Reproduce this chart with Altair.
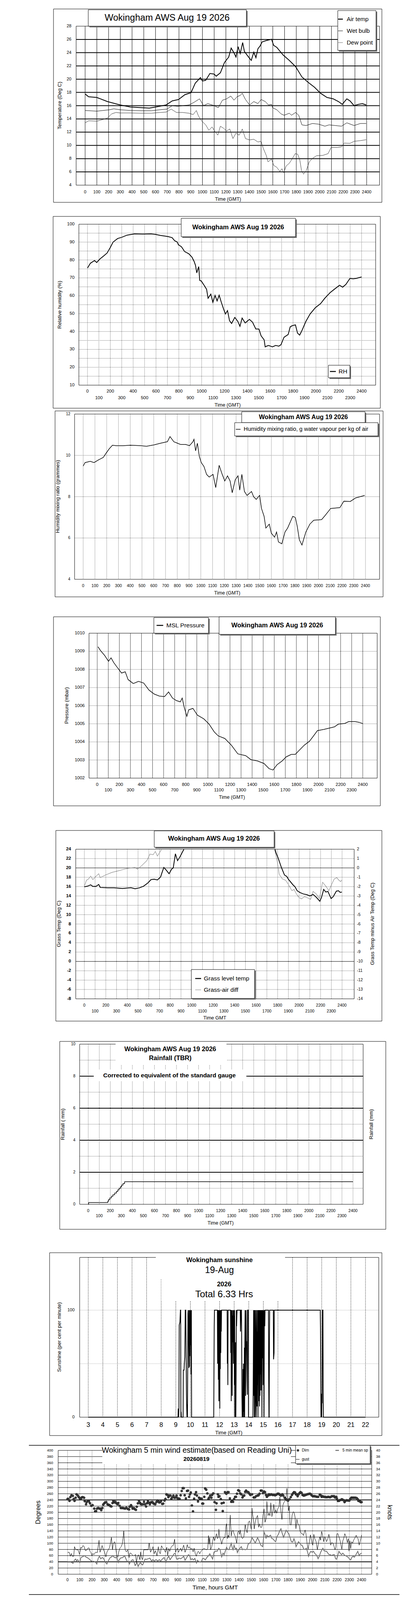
import altair as alt
import pandas as pd

FN = "Liberation Sans"
FR = "Liberation Sans"
MARGIN = 8
W, H = 1034, 5069
TITLE = "Wokingham AWS Aug 19 2026"

TIME_TICKS = list(range(0, 2500, 100))
EVEN_TICKS = list(range(0, 2500, 200))
ODD_TICKS = list(range(100, 2400, 200))
SUN_HOURS = list(range(3, 23))

# ---------------- data (time in HHMM-linear units, 100 per hour) ----------------
AIR_TEMP = [(0,17.76),(30,17.34),(100,17.24),(190,16.62),(300,16.1),(387,15.8),(476,15.7),(547,15.63),(600,15.8),
            (690,16.1),(743,16.72),(796,16.93),(850,17.65),(903,17.96),(939,19.4),(983,20.24),(1000,19.72),(1028,19.83),
            (1064,20.86),(1100,20.76),(1117,20.45),(1153,20.96),(1188,22.52),(1224,23.34),(1245,24.69),(1269,23.97),
            (1286,23.34),(1304,24.9),(1322,23.86),(1343,25.52),(1358,24.17),(1384,23.55),(1416,22.83),(1438,24.07),
            (1456,23.24),(1473,24.59),(1491,25.0),(1509,25.62),(1545,25.83),(1589,26.03),(1607,25.1),(1634,24.8),
            (1687,23.66),(1741,22.83),(1794,21.9),(1848,20.34),(1901,19.52),(1955,18.79),(2008,17.86),(2062,17.24),
            (2115,17.03),(2160,16.62),(2192,16.2),(2231,17.03),(2258,16.72),(2293,16.0),(2329,16.2),(2364,16.31),(2396,16.1)]
WET_BULB = [(0,15.27),(100,15.17),(208,15.38),(244,15.52),(300,15.38),(387,15.27),(476,15.23),(565,15.23),(636,15.38),
            (698,15.48),(743,16.0),(788,15.9),(832,16.0),(885,16.1),(930,16.52),(975,17.03),(1010,16.0),(1046,16.31),
            (1100,16.0),(1135,15.69),(1171,16.83),(1206,17.03),(1242,17.45),(1269,16.83),(1295,17.34),(1322,17.55),
            (1340,17.86),(1367,16.93),(1402,16.1),(1438,16.62),(1473,16.31),(1500,16.93),(1536,16.62),(1563,16.1),
            (1589,16.2),(1598,15.69),(1634,15.38),(1670,14.76),(1696,14.55),(1741,14.86),(1759,14.55),(1794,14.97),
            (1821,14.55),(1848,13.1),(1884,13.0),(1937,13.31),(1990,13.21),(2044,12.9),(2079,13.1),(2133,13.0),
            (2186,12.9),(2231,13.41),(2293,13.0),(2346,13.31),(2396,13.31)]
DEW_POINT = [(0,13.41),(30,13.72),(100,13.66),(155,13.93),(191,14.14),(226,14.76),(262,14.97),(300,14.9),(387,14.9),
             (476,14.86),(565,14.86),(636,14.97),(690,15.03),(734,15.48),(779,14.97),(832,14.97),(885,14.86),(921,14.65),
             (948,15.27),(966,14.45),(992,13.72),(1028,13.1),(1055,12.28),(1082,12.79),(1108,12.07),(1131,11.55),
             (1153,12.9),(1180,12.59),(1206,12.17),(1233,12.48),(1260,11.03),(1286,11.86),(1313,11.55),(1340,12.48),
             (1367,11.03),(1402,10.83),(1438,10.93),(1473,10.52),(1500,10.62),(1518,9.59),(1545,8.45),(1559,7.52),
             (1589,7.93),(1607,7.0),(1634,6.69),(1660,6.07),(1678,6.48),(1693,5.86),(1714,6.9),(1741,7.31),(1767,8.03),
             (1791,8.76),(1812,8.66),(1830,7.83),(1844,6.28),(1862,5.65),(1884,6.17),(1911,7.52),(1937,8.03),(1973,8.45),
             (2026,8.49),(2071,8.76),(2097,9.69),(2151,9.69),(2186,9.79),(2208,10.35),(2258,10.31),(2293,10.62),
             (2346,10.72),(2396,10.86)]
REL_HUM = [(0,75.5),(26,78.2),(62,79.7),(81,78.6),(108,80.5),(145,82.4),(172,83.9),(200,87.0),(224,90.0),(264,92.0),
           (301,92.7),(347,93.9),(411,94.6),(484,94.5),(557,94.6),(594,94.3),(640,93.7),(704,93.1),(741,92.5),(763,90.8),
           (787,90.0),(796,88.5),(823,87.4),(851,84.7),(887,83.5),(915,81.6),(933,79.3),(946,77.0),(957,72.8),(974,76.3),
           (983,68.6),(997,68.2),(1025,65.5),(1043,63.6),(1056,58.6),(1080,60.9),(1098,56.3),(1117,60.2),(1135,57.1),
           (1153,60.3),(1172,56.3),(1190,52.9),(1208,49.8),(1226,51.7),(1244,46.0),(1262,44.5),(1290,47.9),(1317,45.6),
           (1335,42.9),(1354,47.5),(1381,44.8),(1418,46.8),(1445,45.2),(1474,41.4),(1501,41.4),(1520,37.6),(1547,35.3),
           (1556,31.4),(1584,32.2),(1620,31.4),(1648,32.2),(1675,31.8),(1694,32.6),(1721,36.8),(1757,38.3),(1775,42.6),
           (1794,43.3),(1821,43.7),(1839,39.1),(1858,38.0),(1876,40.3),(1912,45.6),(1949,49.8),(1995,53.3),(2041,55.6),
           (2078,58.6),(2106,60.5),(2124,61.7),(2161,63.6),(2207,65.9),(2234,64.8),(2262,66.3),(2298,69.7),(2326,69.5),
           (2353,69.7),(2400,70.5)]
MIX_RATIO = [(0,9.48),(16,9.65),(60,9.71),(93,9.65),(127,9.77),(171,9.9),(193,10.09),(222,10.32),(249,10.49),(282,10.47),
             (338,10.47),(404,10.49),(493,10.47),(538,10.44),(604,10.51),(660,10.59),(716,10.66),(738,10.91),(771,10.66),
             (827,10.53),(871,10.53),(904,10.47),(933,10.66),(942,10.78),(956,10.22),(971,10.59),(987,9.96),(1004,9.65),
             (1027,9.46),(1049,9.08),(1071,8.95),(1104,9.08),(1127,8.44),(1156,9.52),(1182,9.08),(1204,8.76),(1227,9.01),
             (1249,8.76),(1267,8.19),(1293,8.82),(1316,9.01),(1331,8.32),(1349,9.08),(1371,8.25),(1393,8.06),(1431,8.25),
             (1449,8.0),(1471,7.87),(1500,8.06),(1516,7.43),(1538,7.05),(1553,6.48),(1582,6.67),(1600,6.23),(1627,6.04),
             (1644,6.29),(1660,5.81),(1689,5.72),(1716,6.29),(1738,6.48),(1782,7.05),(1804,6.99),(1820,6.56),(1838,5.91),
             (1860,5.66),(1893,6.29),(1927,6.67),(1960,6.86),(2027,6.89),(2060,7.11),(2104,7.43),(2182,7.47),(2216,7.78),
             (2271,7.77),(2316,7.94),(2393,8.06)]
PRESSURE = [(7,1009.25),(31,1009.03),(66,1008.78),(102,1008.45),(125,1008.64),(149,1008.38),(184,1008.09),(220,1007.8),
            (253,1007.87),(279,1007.44),(326,1007.22),(373,1007.34),(420,1007.25),(468,1006.86),(515,1006.64),(562,1006.53),
            (609,1006.5),(645,1006.76),(680,1006.42),(716,1006.28),(751,1006.21),(768,1006.42),(786,1005.92),(810,1005.41),
            (827,1005.77),(865,1005.85),(905,1005.48),(964,1005.27),(1011,1004.98),(1058,1004.55),(1094,1004.33),
            (1153,1004.19),(1212,1003.82),(1271,1003.34),(1342,1003.24),(1389,1003.02),(1448,1002.95),(1507,1002.81),
            (1554,1002.52),(1589,1002.45),(1625,1002.74),(1672,1002.95),(1707,1003.17),(1754,1003.31),(1790,1003.31),
            (1825,1003.53),(1872,1003.82),(1919,1004.04),(1955,1004.33),(1990,1004.62),(2049,1004.69),(2097,1004.76),
            (2144,1004.83),(2179,1004.98),(2238,1005.02),(2273,1005.12),(2332,1005.12),(2368,1005.08),(2400,1005.01)]
GRASS_TEMP_AM = [(0,15.96),(30,16.1),(59,16.38),(79,16.04),(108,16.04),(134,16.46),(148,15.82),(217,15.74),(276,15.74),
                 (355,15.6),(434,15.76),(473,15.54),(513,15.74),(552,16.1),(592,16.8),(621,17.5),(651,17.58),(680,17.42),
                 (710,18.06),(724,19.04),(740,20.1),(760,19.6),(789,18.76),(813,19.74),(828,20.02),(848,23.02),(868,21.56),
                 (888,22.26),(907,23.1),(927,24.0)]
GRASS_TEMP_PM = [(1775,24.0),(1785,23.24),(1805,22.12),(1834,20.16),(1864,18.48),(1884,18.2),(1903,17.5),(1923,16.94),
                 (1943,16.38),(1962,15.96),(1982,15.12),(2012,14.7),(2041,14.42),(2071,14.28),(2101,14.0),(2130,14.34),
                 (2160,13.72),(2193,12.88),(2209,13.72),(2229,15.4),(2249,14.84),(2268,14.98),(2298,13.44),(2318,13.86),
                 (2347,15.04),(2367,15.12),(2383,14.76),(2398,14.84)]
GRASS_DIFF_AM = [(0,-1.95),(20,-1.32),(39,-1.18),(59,-0.87),(79,-1.25),(108,-0.9),(134,-0.62),(148,-1.04),(197,-0.76),
                 (256,-0.48),(316,-0.31),(375,-0.13),(434,0.01),(473,0.05),(493,-0.13),(532,0.22),(582,0.78),(611,1.48),
                 (641,1.41),(661,1.76),(680,1.27),(700,1.62),(720,2.0)]
GRASS_DIFF_PM = [(1771,2.0),(1795,0.78),(1815,-0.69),(1844,-1.18),(1874,-1.32),(1903,-1.81),(1933,-2.44),(1953,-2.3),
                 (1972,-2.72),(1996,-3.14),(2022,-3.31),(2051,-3.07),(2081,-3.21),(2107,-3.35),(2130,-2.51),(2160,-2.79),
                 (2189,-3.28),(2219,-1.53),(2249,-1.95),(2278,-2.44),(2298,-1.88),(2327,-1.18),(2351,-1.04),(2371,-1.32),
                 (2387,-1.46),(2398,-1.29)]
RAINFALL = [(0,0.0),(3,0.11),(171,0.11),(178,0.2),(185,0.3),(196,0.4),(210,0.5),(224,0.6),(240,0.7),(255,0.8),(268,0.9),
            (280,1.0),(292,1.1),(303,1.2),(315,1.3),(330,1.41),(2400,1.41)]
# sunshine: minutes after midnight, per cent of the minute
SUNSHINE = [(180,0),(549,0),(550,8),(552,0),(553,9),(554,86),(556,88),(557,89),(559,100),(560,100),(561,0),(562,5),(563,0),
            (570,0),(571,44),(574,44),(575,50),(577,56),(579,100),(581,100),(582,72),(584,21),(585,8),(586,0),(587,12),
            (588,0),(589,47),(590,97),(591,100),(593,67),(594,46),(595,100),(596,47),(597,100),(598,57),(599,100),(601,67),
            (602,100),(603,40),(604,100),(605,0),
            (696,0),(697,45),(698,85),(699,100),
            (711,100),(712,50),(713,100),(714,85),(715,35),(716,100),(717,15),(718,100),(719,60),(720,100),(721,8),(722,100),
            (723,45),(724,100),(725,60),(726,100),(727,80),(728,100),
            (751,100),(752,50),(753,80),(754,30),(755,100),
            (765,100),(766,60),(767,100),(768,15),(769,100),(770,40),(771,100),(772,20),(773,95),(774,70),(775,100),(776,90),
            (777,50),(778,100),(779,60),(780,95),(781,30),(782,100),(783,0),(784,45),(785,0),(786,70),(787,0),(788,40),
            (789,100),(790,85),(791,95),(792,100),
            (805,100),(806,80),(807,90),(808,100),
            (810,100),(811,70),(812,20),(813,0),(814,20),(815,0),(816,45),(817,0),(818,50),(819,5),(820,45),(821,0),(822,65),
            (823,0),(824,70),(825,100),(826,60),(827,20),(828,70),(829,100),(830,67),(831,71),(833,34),(834,21),(835,100),
            (838,100),(839,0),
            (857,0),(858,20),(859,60),(860,100),(861,20),(862,100),(863,0),(864,70),(865,100),(866,0),(867,15),(868,70),
            (869,100),(870,20),(871,0),(872,70),(873,100),(874,10),(875,80),(876,30),(877,100),(878,0),(879,100),(880,40),
            (881,100),(882,15),(883,100),(884,10),(885,100),(886,20),(887,100),(888,40),(889,100),(890,25),(891,100),
            (892,50),(893,100),(894,0),(895,90),(896,100),(897,55),(898,100),(899,30),(900,100),(901,45),(902,100),(903,0),
            (904,100),(905,90),(906,85),(907,100),
            (921,100),(922,36),(923,0),(924,0),(925,70),(926,100),
            (941,100),(942,54),(944,60),(945,100),
            (1134,100),(1135,84),(1136,35),(1137,0),(1138,10),(1139,22),(1140,0),(1141,22),(1142,13),(1143,100),(1145,100),
            (1146,25),(1147,0),(1320,0)]
WIND_DIR = [(0,243),(7,243),(16,237),(23,249),(32,255),(43,253),(50,243),(57,237),(66,247),(73,258),(84,254),(92,249),
            (101,245),(108,244),(116,248),(124,249),(135,247),(140,236),(151,226),(156,233),(167,237),(175,235),(183,229),
            (193,221),(204,223),(218,212),(225,203),(233,204),(241,212),(250,214),(260,212),(268,212),(275,207),(284,214),
            (291,225),(300,229),(307,232),(316,233),(326,226),(335,224),(342,223),(350,220),(358,219),(367,230),(374,237),
            (382,232),(390,234),(399,229),(408,226),(414,230),(425,221),(435,214),(443,214),(452,214),(459,213),(470,212),
            (480,215),(491,211),(502,209),(507,218),(518,223),(523,219),(531,212),(541,214),(549,210),(558,208),(565,218),
            (574,229),(583,237),(590,231),(597,227),(604,226),(613,226),(624,234),(631,226),(641,219),(648,229),(656,235),
            (663,231),(672,226),(679,232),(688,233),(693,233),(700,229),(709,227),(716,226),(725,233),(733,238),(741,235),
            (748,232),(757,233),(764,237),(773,227),(781,228),(791,238),(799,243),(807,258),(815,256),(823,249),(831,254),
            (840,254),(847,244),(855,248),(864,254),(874,247),(882,248),(889,254),(898,246),(905,243),(914,244),(923,255),
            (932,269),(940,278),(948,278),(956,255),(966,245),(975,269),(983,270),(992,250),(999,258),(1006,264),(1015,222),
            (1024,203),(1033,244),(1040,258),(1049,265),(1056,254),(1065,235),(1073,247),(1081,245),(1088,243),(1095,244),
            (1100,228),(1107,228),(1116,250),(1123,277),(1132,273),(1141,261),(1150,243),(1155,247),(1164,254),(1174,247),
            (1180,256),(1189,261),
            (1200,233),(1211,208),(1216,229),(1227,258),(1232,250),(1240,252),(1251,243),(1258,229),(1267,204),(1274,231),
            (1285,265),(1296,260),(1306,265),(1314,265),(1325,245),(1336,234),(1343,235),(1351,234),(1359,243),(1368,250),
            (1375,250),(1383,260),(1393,271),(1402,269),(1410,261),(1418,258),(1428,248),(1434,253),(1442,254),(1450,266),
            (1457,270),(1466,266),(1476,265),(1485,260),(1492,256),(1506,258),(1519,248),(1529,248),(1538,252),(1551,254),
            (1559,255),(1567,260),(1577,270),(1585,270),(1595,262),(1604,267),(1612,265),(1620,256),(1627,250),(1636,254),
            (1644,258),(1652,256),(1662,258),(1673,256),(1684,256),(1694,255),(1705,257),(1715,260),(1723,260),(1731,257),
            (1742,254),(1753,258),(1761,254),(1772,247),(1782,243),(1790,240),(1800,238),(1811,242),(1822,249),(1832,256),
            (1840,261),(1848,265),(1857,264),(1864,258),(1872,258),(1878,252),(1885,258),(1894,262),(1901,265),(1910,263),
            (1918,256),(1928,254),(1935,255),(1944,256),(1955,258),(1965,259),(1976,260),(1984,259),(1992,255),(2002,252),
            (2011,252),(2018,252),(2027,251),(2037,250),(2046,250),(2059,257),(2066,255),(2074,250),(2082,252),(2091,250),
            (2101,250),(2109,249),(2119,249),(2128,250),(2137,249),(2146,249),(2156,252),(2167,252),(2176,252),(2183,248),
            (2194,250),(2199,244),(2207,237),(2215,237),(2220,239),(2231,240),(2239,242),(2247,240),(2254,239),(2261,233),
            (2268,237),(2279,239),(2289,238),(2300,238),(2307,243),(2316,247),(2324,247),(2332,247),(2340,247),(2350,247),
            (2360,246),(2369,242),(2374,237),(2385,236),(2392,233),(2400,233)]
WIND_MEAN = [(0,3.9),(29,3.9),(45,3.5),(55,4.5),(66,4.9),(73,4.3),(82,4.7),(92,4.2),(100,3.7),(108,5.3),(119,5.6),(129,5.8),
             (140,6.0),(151,5.5),(164,5.3),(177,4.9),(193,4.3),(204,4.1),(214,4.2),(228,3.9),(239,3.3),(250,5.1),(260,5.8),
             (271,5.0),(284,5.4),(294,5.1),(308,3.9),(321,3.3),(332,4.3),(346,5.3),(356,5.5),(369,6.0),(380,5.5),(391,5.3),
             (401,5.6),(414,3.8),(422,4.7),(435,5.3),(446,5.3),(454,5.5),(465,6.0),(473,5.3),(486,4.1),(494,4.2),(505,3.3),
             (512,3.9),(523,4.5),(534,4.7),(544,3.7),(552,2.8),(558,3.2),(567,3.7),(576,2.5),(587,3.4),(594,3.7),(605,3.2),
             (613,3.0),(622,3.8),(632,4.9),(645,4.8),(658,5.0),(672,5.2),(686,4.2),(696,4.7),(709,4.3),(722,4.7),(736,4.3),
             (750,4.7),(760,4.2),(773,4.9),(789,5.4),(803,3.8),(815,5.2),(826,5.8),(837,4.7),(849,5.4),(860,6.0),(869,6.6),
             (879,6.8),(890,4.9),(900,4.9),(911,5.2),(924,5.0),(938,5.4),(948,5.8),(959,4.5),(973,5.4),(986,6.3),(996,6.0),
             (1007,4.7),(1018,5.0),(1028,4.6),(1039,5.1),(1052,3.6),(1060,4.5),(1071,4.1),(1084,3.9),(1094,4.2),(1103,5.1),
             (1113,5.1),(1124,4.6),(1137,5.4),(1151,6.0),(1161,6.6),(1184,4.9),(1195,7.1),(1211,7.5),(1221,7.4),(1234,8.4),
             (1245,7.9),(1258,5.6),(1269,6.8),(1278,6.3),(1287,7.4),(1298,8.7),(1306,8.1),(1317,7.9),(1325,8.7),(1336,10.0),
             (1343,8.7),(1351,7.9),(1359,9.4),(1370,8.1),(1379,8.4),(1386,7.0),(1397,7.9),(1407,8.4),(1418,8.9),(1428,7.9),
             (1439,8.1),(1450,7.9),(1464,8.1),(1474,9.7),(1485,10.0),(1495,10.5),(1506,11.8),(1519,11.0),(1532,10.1),
             (1540,10.8),(1551,11.8),(1563,10.8),(1577,9.4),(1593,8.9),(1604,13.6),(1612,12.9),(1620,11.5),(1627,12.6),
             (1636,12.1),(1646,12.3),(1657,12.6),(1668,11.5),(1678,11.4),(1689,10.8),(1699,10.5),(1710,12.2),(1721,12.9),
             (1731,14.0),(1742,14.7),(1753,13.1),(1763,11.9),(1774,13.1),(1784,14.2),(1795,13.6),(1806,13.1),(1816,11.8),
             (1827,10.5),(1838,10.4),(1848,11.5),(1857,10.5),(1865,8.9),(1875,9.7),(1885,10.5),(1896,10.0),(1907,9.4),
             (1917,9.2),(1928,8.1),(1939,8.0),(1949,8.4),(1960,7.1),(1967,5.8),(1976,6.8),(1986,7.4),(1997,7.1),(2008,7.4),
             (2018,6.7),(2029,6.3),(2037,5.8),(2045,5.0),(2055,5.8),(2066,7.1),(2077,7.9),(2084,8.4),(2093,7.6),(2103,7.4),
             (2114,7.4),(2125,6.8),(2135,6.3),(2146,6.3),(2156,6.0),(2167,6.3),(2178,6.3),(2188,5.0),(2197,4.9),(2204,5.8),
             (2215,7.4),(2225,6.8),(2236,6.3),(2247,6.8),(2257,6.3),(2268,6.0),(2279,5.8),(2289,5.5),(2300,5.0),(2311,4.6),
             (2321,5.5),(2332,5.8),(2340,5.5),(2350,6.0),(2360,6.8),(2369,7.4),(2380,6.0),(2390,6.6),(2400,6.8)]
WIND_GUST = [(0,7.0),(13,7.1),(23,5.8),(31,6.7),(39,5.8),(50,5.8),(57,8.9),(66,8.0),(77,7.9),(85,7.9),(98,6.4),(108,8.7),
             (116,8.4),(124,9.2),(133,9.1),(146,7.6),(154,7.7),(165,8.4),(175,8.5),(183,7.4),(191,7.0),(199,6.0),(207,6.7),
             (215,6.3),(228,7.1),(243,7.0),(257,11.0),(265,7.1),(273,7.9),(282,9.3),(292,8.0),(300,7.4),(313,5.6),(321,7.1),
             (332,7.9),(342,8.5),(350,10.0),(358,11.9),(367,7.9),(374,10.0),(385,10.5),(395,7.9),(403,5.8),(411,5.5),
             (417,7.1),(427,8.4),(438,8.9),(448,10.0),(454,12.1),(459,14.0),(464,10.5),(470,7.9),(480,7.2),(491,7.9),
             (502,5.3),(509,6.8),(518,6.8),(533,6.0),(544,6.0),(555,6.4),(562,3.7),(571,5.8),(579,6.3),(590,4.7),(597,7.2),
             (603,5.5),(613,4.7),(622,7.9),(634,7.9),(650,7.9),(658,7.9),(666,10.1),(677,7.1),(690,8.1),(698,8.9),(707,6.6),
             (717,7.6),(730,5.9),(741,8.9),(749,7.1),(757,6.6),(767,9.2),(778,8.4),(789,7.9),(799,7.1),(810,8.7),(817,6.0),
             (826,8.3),(834,7.4),(845,8.7),(852,9.1),(863,9.3),(870,10.5),(874,11.3),(882,7.1),(889,7.9),(898,8.4),(905,7.1),
             (913,7.6),(923,8.4),(932,7.4),(940,8.5),(948,9.4),(959,7.1),(969,8.1),(977,9.6),(985,8.5),(996,8.8),(1006,8.1),
             (1017,8.3),(1025,7.2),(1033,8.4),(1044,6.4),(1051,5.8),(1060,7.1),(1068,7.4),(1079,6.6),(1089,7.4),(1102,7.9),
             (1113,8.4),(1123,8.1),(1136,7.9),(1145,8.4),(1150,12.5),(1155,9.7),(1160,11.8),(1167,7.9),(1177,8.9),
             (1184,10.5),(1191,12.1),(1200,10.8),(1209,12.1),(1216,13.1),(1223,11.5),(1230,11.8),(1235,14.6),(1243,11.8),
             (1251,11.0),(1258,9.7),(1266,11.0),(1274,11.8),(1285,11.8),(1293,15.5),(1298,16.3),(1304,11.5),(1312,12.6),
             (1317,11.8),(1328,19.1),(1336,12.3),(1343,13.9),(1351,14.2),(1359,13.1),(1370,12.1),(1381,10.0),(1389,13.6),
             (1397,13.9),(1404,12.9),(1410,14.3),(1418,12.1),(1428,11.5),(1439,12.1),(1450,16.0),(1457,14.4),(1466,13.4),
             (1476,16.8),(1485,17.2),(1492,16.0),(1500,14.4),(1506,21.4),(1510,19.4),(1517,17.8),(1524,14.6),(1532,16.8),
             (1540,18.1),(1551,19.0),(1559,15.2),(1567,16.3),(1574,15.2),(1583,15.1),(1588,15.7),(1595,18.9),(1604,21.1),
             (1612,16.8),(1620,17.8),(1627,23.6),(1636,18.9),(1644,19.7),(1652,18.9),(1659,23.1),(1668,18.6),(1676,20.2),
             (1684,22.6),(1691,19.7),(1699,20.8),(1708,19.7),(1715,21.1),(1726,21.8),(1733,25.0),(1742,20.2),(1750,17.7),
             (1758,22.3),(1765,23.1),(1774,23.6),(1782,24.5),(1791,27.7),(1797,24.1),(1804,20.5),(1810,22.0),(1816,16.0),
             (1825,15.9),(1833,19.1),(1843,20.2),(1850,19.9),(1857,18.4),(1864,14.7),(1872,17.8),(1880,16.3),(1891,15.7),
             (1899,13.8),(1910,13.1),(1917,13.1),(1925,12.5),(1933,13.6),(1939,14.3),(1946,13.1),(1955,10.0),(1963,8.1),
             (1974,10.5),(1982,12.7),(1989,11.5),(1997,9.7),(2002,9.4),(2010,12.9),(2018,11.5),(2029,10.5),(2039,7.9),
             (2050,10.5),(2059,12.1),(2066,11.0),(2074,13.8),(2082,12.6),(2091,10.5),(2098,12.1),(2105,11.8),(2114,10.5),
             (2125,11.5),(2133,12.9),(2141,11.5),(2148,9.4),(2156,10.2),(2167,10.0),(2176,8.9),(2183,7.9),(2190,8.7),
             (2199,13.1),(2207,13.1),(2215,12.1),(2225,10.8),(2239,8.0),(2247,10.8),(2254,11.5),(2263,13.1),(2274,12.1),
             (2284,10.2),(2292,11.5),(2297,7.5),(2304,10.8),(2311,8.3),(2318,10.5),(2327,10.0),(2335,11.0),(2343,11.5),
             (2356,12.6),(2364,11.8),(2371,11.5),(2380,9.4),(2388,10.5),(2396,11.8),(2400,12.7)]

# ---------------- helpers ----------------
L = []


def px(v):
    return v - MARGIN


def one():
    return alt.Data(values=[{"k": 0}])


def sc(domain, r0, r1):
    return alt.Scale(domain=domain, range=[px(r0), px(r1)], zero=False, nice=False)


def pos(x1, y1, x2=None, y2=None):
    enc = dict(x=alt.value(px(x1)), y=alt.value(px(y1)))
    if x2 is not None:
        enc["x2"] = alt.value(px(x2))
    if y2 is not None:
        enc["y2"] = alt.value(px(y2))
    return enc


def box(x1, y1, x2, y2, fill="white", stroke=None, sw=1, shadow=False):
    out = []
    if shadow:
        out.append(alt.Chart(one()).mark_rect(color="#6e6e6e").encode(**pos(x1 + 3, y1 + 3, x2 + 3, y2 + 3)))
    kw = dict(fill=fill)
    if stroke:
        kw.update(stroke=stroke, strokeWidth=sw)
    out.append(alt.Chart(one()).mark_rect(**kw).encode(**pos(x1, y1, x2, y2)))
    return out


def frame(x1, y1, x2, y2, sw=1, color="black"):
    return alt.Chart(one()).mark_rect(fillOpacity=0, stroke=color, strokeWidth=sw).encode(**pos(x1, y1, x2, y2))


def txt(x, y, s, size, font=FN, weight="normal", align="center", angle=0, color="black"):
    kw = dict(text=s, fontSize=size, font=font, fontWeight=weight, align=align, baseline="middle", color=color)
    if angle:
        kw["angle"] = angle
    return alt.Chart(one()).mark_text(**kw).encode(**pos(x, y))


def seg(x1, x2, y, color="black", width=1):
    return alt.Chart(one()).mark_rule(color=color, strokeWidth=width).encode(**pos(x1, y, x2))


def vgrid(vals, xs, top, bottom, color="black", width=1, dash=None):
    kw = dict(color=color, strokeWidth=width)
    if dash:
        kw["strokeDash"] = dash
    df = pd.DataFrame({"g": list(vals)})
    return alt.Chart(df).mark_rule(**kw).encode(
        x=alt.X("g:Q", scale=xs, axis=None), y=alt.value(px(top)), y2=alt.value(px(bottom)))


def hgrid(vals, ys, left, right, color="black", width=1, dash=None):
    kw = dict(color=color, strokeWidth=width)
    if dash:
        kw["strokeDash"] = dash
    df = pd.DataFrame({"g": list(vals)})
    return alt.Chart(df).mark_rule(**kw).encode(
        y=alt.Y("g:Q", scale=ys, axis=None), x=alt.value(px(left)), x2=alt.value(px(right)))


def curve(pairs, xs, ys, color="black", width=1, interp="linear"):
    df = pd.DataFrame(pairs, columns=["t", "v"])
    return alt.Chart(df).mark_line(color=color, strokeWidth=width, interpolate=interp).encode(
        x=alt.X("t:Q", scale=xs, axis=None), y=alt.Y("v:Q", scale=ys, axis=None))


def xlab(vals, xs, y, size, font=FN, texts=None, weight="normal"):
    vals = list(vals)
    texts = texts if texts is not None else [str(v) for v in vals]
    df = pd.DataFrame({"g": vals, "s": texts})
    return alt.Chart(df).mark_text(fontSize=size, font=font, fontWeight=weight, baseline="middle").encode(
        x=alt.X("g:Q", scale=xs, axis=None), y=alt.value(px(y)), text="s:N")


def ylab(vals, ys, x, size, font=FN, align="right", weight="normal"):
    vals = list(vals)
    df = pd.DataFrame({"g": vals, "s": [str(v) for v in vals]})
    return alt.Chart(df).mark_text(fontSize=size, font=font, fontWeight=weight, align=align, baseline="middle").encode(
        y=alt.Y("g:Q", scale=ys, axis=None), x=alt.value(px(x)), text="s:N")


DOT = [1, 2]

# ---------------- panel 1: temperatures ----------------
xs = sc([0, 2400], 218, 939)
ys = sc([4, 28], 474, 67)
L.append(frame(137, 23, 978, 518))
L.append(vgrid(TIME_TICKS, xs, 67, 474, "black", 1))
L.append(hgrid(range(6, 28, 2), ys, 195, 972, "black", 2))
L.append(frame(195, 67, 972, 474))
L.append(curve(DEW_POINT, xs, ys, "#333333", 1))
L.append(curve(WET_BULB, xs, ys, "black", 1))
L.append(curve(AIR_TEMP, xs, ys, "black", 2))
L.append(ylab(range(4, 30, 2), ys, 183, 11))
L.append(xlab(TIME_TICKS, xs, 492, 11))
L.append(txt(584, 510, "Time (GMT)", 12.5))
L.append(txt(153, 270, "Temperature (Deg C)", 13, font=FR, angle=270))
L += box(226, 25, 631, 67, stroke="black", shadow=True)
L.append(txt(428, 46, TITLE, 23.5))
L += box(865, 27, 963, 129, stroke="black", shadow=True)
L.append(seg(866, 878, 49, "black", 2.5))
L.append(txt(888, 49, "Air temp", 15, align="left"))
L.append(seg(866, 878, 79, "black", 1))
L.append(txt(888, 79, "Wet bulb", 15, align="left"))
L.append(seg(866, 878, 109, "#666666", 1))
L.append(txt(888, 109, "Dew point", 15, align="left"))

# ---------------- panel 2: relative humidity ----------------
xs = sc([0, 2400], 224, 926)
ys = sc([10, 100], 986, 574)
L.append(frame(136, 554, 974, 1045))
L.append(vgrid(TIME_TICKS, xs, 574, 986, "black", 1, DOT))
L.append(hgrid(range(15, 100, 5), ys, 202, 962, "black", 1, DOT))
L.append(frame(202, 574, 962, 986))
L.append(curve(REL_HUM, xs, ys, "black", 2))
L.append(ylab(range(10, 110, 10), ys, 191, 11.5))
L.append(xlab(EVEN_TICKS, xs, 1002, 11.5))
L.append(xlab(ODD_TICKS, xs, 1019, 11.5))
L.append(txt(583, 1037, "Time (GMT)", 12.5))
L.append(txt(153, 780, "Relative humidity (%)", 13, font=FR, angle=270))
L += box(464, 559, 757, 606, stroke="black", shadow=True)
L.append(txt(610, 582, TITLE, 16.5, weight="bold"))
L += box(841, 935, 896, 967, stroke="black", shadow=True)
L.append(seg(845, 860, 951, "black", 2.5))
L.append(txt(867, 951, "RH", 15.5, align="left"))

# ---------------- panel 3: mixing ratio ----------------
xs = sc([0, 2400], 213, 936)
ys = sc([4, 12], 1483, 1060)
L.append(frame(141, 1052, 981, 1528))
L.append(vgrid(TIME_TICKS, xs, 1060, 1483, "black", 1, DOT))
L.append(hgrid([6, 8, 10], ys, 191, 972, "black", 1, DOT))
L.append(frame(191, 1060, 972, 1483))
L.append(curve(MIX_RATIO, xs, ys, "black", 1.5))
L.append(ylab(range(4, 14, 2), ys, 180, 10))
L.append(xlab(TIME_TICKS, xs, 1500, 10.5))
L.append(txt(582, 1518, "Time (GMT)", 12.5))
L.append(txt(148, 1271, "Humidity mixing ratio (grammes)", 13, font=FR, angle=270))
L += box(619, 1054, 935, 1082, stroke="black", shadow=True)
L.append(txt(777, 1068, TITLE, 16, weight="bold"))
L += box(601, 1082, 968, 1116, stroke="black", shadow=True)
L.append(seg(604, 616, 1099, "black", 1.5))
L.append(txt(624, 1099, "Humidity mixing ratio, g water vapour per kg of air", 14.5, align="left"))

# ---------------- panel 4: pressure ----------------
xs = sc([0, 2400], 249, 929)
ys = sc([1002, 1010], 1992, 1621)
L.append(frame(137, 1579, 974, 2063))
L.append(vgrid(TIME_TICKS, xs, 1621, 1992, "#444444", 1))
L.append(hgrid(range(1003, 1010), ys, 228, 966, "black", 1, DOT))
L.append(frame(228, 1621, 966, 1992))
L.append(curve(PRESSURE, xs, ys, "black", 1.5))
L.append(ylab(range(1002, 1011), ys, 217, 11.5))
L.append(xlab(EVEN_TICKS, xs, 2009, 11.5))
L.append(xlab(ODD_TICKS, xs, 2023, 11.5))
L.append(txt(594, 2041, "Time (GMT)", 12.5))
L.append(txt(171, 1806, "Pressure (mbar)", 13, font=FR, angle=270))
L += box(394, 1581, 534, 1621, stroke="black", shadow=True)
L.append(seg(401, 418, 1601, "black", 2.5))
L.append(txt(426, 1601, "MSL Pressure", 15.5, align="left"))
L += box(561, 1579, 859, 1624, stroke="black", shadow=True)
L.append(txt(710, 1601, TITLE, 16.5, weight="bold"))

# ---------------- panel 5: grass temperature ----------------
xs = sc([0, 2400], 216, 876)
ys = sc([-8, 24], 2557, 2174)
ys2 = sc([-14, 2], 2557, 2174)
L.append(frame(143, 2126, 978, 2614))
L.append(vgrid(TIME_TICKS, xs, 2174, 2557, "black", 1, DOT))
L.append(hgrid([-6, -4, -2, 2, 4, 6, 8, 10, 12, 14, 16, 18, 22], ys, 194, 907, "black", 1, DOT))
L.append(hgrid([0, 20], ys, 194, 907, "black", 1))
L.append(frame(194, 2174, 907, 2557))
L.append(curve(GRASS_DIFF_AM, xs, ys2, "#8c8c8c", 1.2))
L.append(curve(GRASS_DIFF_PM, xs, ys2, "#8c8c8c", 1.2))
L.append(curve(GRASS_TEMP_AM, xs, ys, "black", 2))
L.append(curve(GRASS_TEMP_PM, xs, ys, "black", 2))
L.append(ylab(range(-8, 26, 2), ys, 182, 11.5, weight="bold"))
L.append(ylab(range(-14, 3), ys2, 914, 10.5, align="left"))
L.append(xlab(EVEN_TICKS, xs, 2574, 10.5))
L.append(xlab(ODD_TICKS, xs, 2589, 10.5))
L.append(txt(550, 2606, "Time GMT", 12.5))
L.append(txt(151, 2365, "Grass Temp (Deg C)", 13, font=FR, angle=270))
L.append(txt(954, 2365, "Grass Temp minus Air Temp (Deg C)", 13, font=FR, angle=270))
L += box(395, 2127, 702, 2169, stroke="black", shadow=True)
L.append(txt(548, 2147, TITLE, 16.5, weight="bold"))
L += box(490, 2482, 652, 2556, stroke="black", shadow=True)
L.append(seg(500, 515, 2505, "black", 2.5))
L.append(txt(522, 2505, "Grass level temp", 15.5, align="left"))
L.append(seg(500, 515, 2534, "#8c8c8c", 1.2))
L.append(txt(522, 2534, "Grass-air diff", 15.5, align="left"))

# ---------------- panel 6: rainfall ----------------
xs = sc([0, 2400], 226, 904)
ys = sc([0, 10], 3083, 2673)
L.append(frame(153, 2666, 988, 3147))
L.append(vgrid(TIME_TICKS, xs, 2673, 3083, "black", 1, DOT))
L.append(hgrid([1, 3, 5, 7, 9], ys, 204, 930, "black", 1, DOT))
L.append(hgrid([2, 4, 6, 8], ys, 204, 930, "black", 2))
L.append(frame(204, 2673, 930, 3083))
L += box(296, 2668, 580, 2726)
L += box(240, 2739, 631, 2767)
L.append(curve(RAINFALL, xs, ys, "black", 1.5, "step-after"))
L.append(txt(436, 2686, TITLE, 16.5, weight="bold"))
L.append(txt(436, 2709, "Rainfall (TBR)", 16.5, weight="bold"))
L.append(txt(434, 2753, "Corrected to equivalent of the standard gauge", 15.5, weight="bold"))
L.append(ylab(range(0, 12, 2), ys, 193, 10))
L.append(xlab(EVEN_TICKS, xs, 3100, 10.5))
L.append(xlab(ODD_TICKS, xs, 3113, 10.5))
L.append(txt(565, 3131, "Time (GMT)", 12.5))
L.append(txt(161, 2878, "Rainfall ( mm)", 13, font=FR, angle=270))
L.append(txt(951, 2878, "Rainfall (mm)", 13, font=FR, angle=270))

# ---------------- panel 7: sunshine ----------------
xs = sc([180, 1320], 226, 936)
ys = sc([0, 150], 3628, 3217)
L.append(frame(127, 3207, 978, 3675))
L.append(vgrid([h * 60 for h in SUN_HOURS], xs, 3219, 3628, "black", 1, [2, 2]))
L.append(hgrid([50, 100], ys, 204, 970, "#a0a0a0", 1, [1, 1]))
L.append(frame(204, 3219, 970, 3628))
L += box(399, 3217, 730, 3274)
L += box(413, 3274, 713, 3331)
L.append(curve(SUNSHINE, xs, ys, "black", 2))
L.append(txt(562, 3226, "Wokingham sunshine", 16.5, weight="bold"))
L.append(txt(562, 3252, "19-Aug", 23))
L.append(txt(574, 3288, "2026", 16.5, weight="bold"))
L.append(txt(574, 3314, "Total 6.33 Hrs", 24))
L.append(ylab([0, 100], ys, 191, 11))
L.append(xlab([h * 60 for h in SUN_HOURS], xs, 3648, 16.5, texts=[str(h) for h in SUN_HOURS]))
L.append(txt(586, 3668, "Time (GMT)", 13))
L.append(txt(152, 3423, "Sunshine (per cent per minute)", 13, font=FR, angle=270))

# ---------------- panel 8: wind (moved up so it stays inside the photographed area) ----------------
WT, WB = 3713, 4030          # plot top (400 deg) and bottom (0 deg)
xs = sc([0, 2400], 173, 926)
ys = sc([0, 400], WB, WT)
ys2 = sc([0, 40], WB, WT)
L.append(seg(74, 1023, WT - 13, "black", 1.5))
L.append(seg(74, 1023, WB + 52, "black", 1.5))
L.append(vgrid(TIME_TICKS, xs, WT, WB, "black", 1, DOT))
L.append(hgrid([20, 60, 80, 100, 120, 140, 160, 180, 200, 220, 260, 280, 300, 320, 340, 360, 380], ys, 149, 952, "black", 1))
L.append(hgrid([40, 240], ys, 149, 952, "black", 2))
L.append(frame(149, WT, 952, WB))
L += box(262, WT - 12, 745, WT + 34)
L.append(curve(WIND_MEAN, xs, ys2, "#6e6e6e", 2))
L.append(curve(WIND_GUST, xs, ys2, "black", 1))
L.append(alt.Chart(pd.DataFrame(WIND_DIR, columns=["t", "v"])).mark_circle(
    size=34, color="#3d3d3d", opacity=1, stroke="black", strokeWidth=0.6).encode(
    x=alt.X("t:Q", scale=xs, axis=None), y=alt.Y("v:Q", scale=ys, axis=None)))
L.append(txt(504, WT, "Wokingham 5 min wind estimate(based on Reading Uni)", 19.5, font=FR))
L.append(txt(503, WT + 22, "20260819", 15, font=FR, weight="bold"))
L.append(ylab(range(0, 420, 20), ys, 136, 9.5, font=FR))
L.append(ylab(range(0, 42, 2), ys2, 963, 9.5, font=FR, align="left"))
L.append(xlab(TIME_TICKS, xs, WB + 15, 10.5))
L.append(txt(551, WB + 34, "Time, hours GMT", 15))
L.append(txt(98, (WT + WB) / 2, "Degrees", 16, font=FR, angle=270))
L.append(txt(998, (WT + WB) / 2, "knots", 16, font=FR, angle=90))
L += box(757, WT - 13, 948, WT + 34, stroke="black", shadow=True)
L.append(alt.Chart(one()).mark_circle(size=30, color="#3d3d3d", opacity=1, stroke="black", strokeWidth=0.6).encode(**pos(763, WT)))
L.append(txt(773, WT, "Dirn", 10, font=FR, align="left"))
L.append(seg(859, 868, WT, "#6e6e6e", 2.5))
L.append(txt(877, WT, "5 min mean sp", 10, font=FR, align="left"))
L.append(seg(758, 767, WT + 23, "black", 1))
L.append(txt(773, WT + 23, "gust", 10, font=FR, align="left"))

chart = alt.layer(*L).resolve_scale(x="independent", y="independent").properties(
    width=W, height=H, autosize=alt.AutoSizeParams(type="none"), padding=0
).configure_view(stroke=None)

chart.save("out.html", embed_options={"renderer": "svg", "actions": False})
